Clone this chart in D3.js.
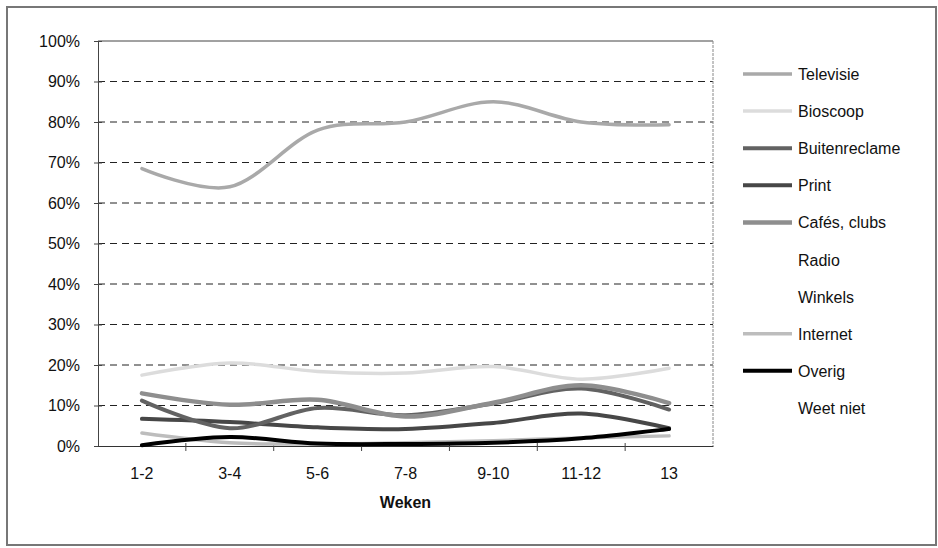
<!DOCTYPE html>
<html>
<head>
<meta charset="utf-8">
<script src="https://cdn.jsdelivr.net/npm/d3@7"></script>
<style>
  body { margin: 0; background: #fff; }
</style>
</head>
<body>
<div id="chart"></div>
<script>
// data (share of respondents, %)
const weeks = ["1-2", "3-4", "5-6", "7-8", "9-10", "11-12", "13"];
const yTicks = [0, 10, 20, 30, 40, 50, 60, 70, 80, 90, 100];

const televisie     = [68.5, 64.0, 78.0, 80.0, 85.0, 80.0, 79.3];
const bioscoop      = [17.5, 20.5, 18.4, 18.0, 19.6, 16.5, 19.2];
const buitenreclame = [11.2, 4.4, 9.4, 7.6, 10.5, 14.2, 9.0];
const print         = [6.7, 5.9, 4.6, 4.2, 5.7, 8.0, 4.4];
const cafesClubs    = [13.0, 10.2, 11.4, 7.3, 10.7, 15.0, 10.6];
const internet      = [3.2, 0.8, 0.5, 0.8, 1.3, 2.0, 2.5];
const overig        = [0.2, 2.2, 0.6, 0.5, 0.8, 1.9, 4.2];

const legendNames = ["Televisie", "Bioscoop", "Buitenreclame", "Print", "Cafés, clubs",
                     "Radio", "Winkels", "Internet", "Overig", "Weet niet"];

const series = [
  { name: "Televisie",     values: televisie,     color: "#a9a9a9", width: 3.5 },
  { name: "Bioscoop",      values: bioscoop,      color: "#dcdcdc", width: 3.5 },
  { name: "Buitenreclame", values: buitenreclame, color: "#626262", width: 4 },
  { name: "Print",         values: print,         color: "#474747", width: 4 },
  { name: "Cafés, clubs",  values: cafesClubs,    color: "#8e8e8e", width: 4.5 },
  { name: "Radio",         values: null },
  { name: "Winkels",       values: null },
  { name: "Internet",      values: internet,      color: "#bdbdbd", width: 3.5 },
  { name: "Overig",        values: overig,        color: "#000000", width: 4 },
  { name: "Weet niet",     values: null }
];

const W = 938, H = 548;
const plot = { left: 98, right: 713, top: 41, bottom: 446 };

const svg = d3.select("#chart")
  .append("svg")
  .attr("width", W)
  .attr("height", H)
  .style("font-family", "'Liberation Sans', Arial, sans-serif");

// outer frame
svg.append("rect")
  .attr("x", 7).attr("y", 7)
  .attr("width", 929).attr("height", 538)
  .attr("fill", "none")
  .attr("stroke", "#777")
  .attr("stroke-width", 2);

const x = d3.scaleBand()
  .domain(weeks)
  .range([plot.left, plot.right])
  .padding(0);

const y = d3.scaleLinear()
  .domain([0, 100])
  .range([plot.bottom, plot.top]);

const cx = d => x(d) + x.bandwidth() / 2;

// gridlines
svg.append("g")
  .selectAll("line")
  .data(yTicks.filter(t => t > 0 && t < 100))
  .enter()
  .append("line")
  .attr("x1", plot.left).attr("x2", plot.right)
  .attr("y1", d => y(d)).attr("y2", d => y(d))
  .attr("stroke", "#222")
  .attr("stroke-width", 1)
  .attr("stroke-dasharray", "7,5");

// plot border top and right
svg.append("line")
  .attr("x1", plot.left).attr("x2", plot.right)
  .attr("y1", y(100)).attr("y2", y(100))
  .attr("stroke", "#444");
svg.append("line")
  .attr("x1", plot.right).attr("x2", plot.right)
  .attr("y1", y(100)).attr("y2", y(0))
  .attr("stroke", "#888")
  .attr("stroke-dasharray", "3,1");

// y axis
const yAxis = svg.append("g")
  .attr("transform", `translate(${plot.left},0)`)
  .call(d3.axisLeft(y).tickValues(yTicks).tickFormat(d => d + "%").tickSize(4).tickPadding(14));
yAxis.select(".domain").attr("stroke", "#444");
yAxis.selectAll(".tick line").attr("x1", -4).attr("x2", 4).attr("stroke", "#444");
yAxis.selectAll("text")
  .style("font-size", "16px")
  .attr("fill", "#111");

// x axis
const xAxis = svg.append("g")
  .attr("transform", `translate(0,${plot.bottom})`)
  .call(d3.axisBottom(x).tickSize(0).tickPadding(22));
xAxis.select(".domain").attr("stroke", "#333");
xAxis.selectAll("text")
  .style("font-size", "16px")
  .attr("fill", "#111");

// x tick marks between categories
svg.append("g")
  .selectAll("line")
  .data(weeks.slice(1))
  .enter()
  .append("line")
  .attr("x1", d => x(d)).attr("x2", d => x(d))
  .attr("y1", plot.bottom - 3).attr("y2", plot.bottom + 5)
  .attr("stroke", "#444");

svg.append("text")
  .attr("x", (plot.left + plot.right) / 2)
  .attr("y", 508)
  .attr("text-anchor", "middle")
  .style("font-size", "16px")
  .style("font-weight", "bold")
  .attr("fill", "#111")
  .text("Weken");

// lines
const line = d3.line()
  .x((d, i) => cx(weeks[i]))
  .y(d => y(d))
  .curve(d3.curveCardinal.tension(0));

const drawOrder = ["Bioscoop", "Televisie", "Internet", "Print", "Overig", "Buitenreclame", "Cafés, clubs"];
svg.append("g")
  .selectAll("path")
  .data(drawOrder.map(n => series.find(s => s.name === n)))
  .enter()
  .append("path")
  .attr("d", d => line(d.values))
  .attr("fill", "none")
  .attr("stroke", d => d.color)
  .attr("stroke-width", d => d.width)
  .attr("stroke-linecap", "round");

// legend
const legend = svg.append("g")
  .attr("transform", "translate(743, 74)");

legendNames.forEach((name, i) => {
  const s = series.find(d => d.name === name);
  const row = legend.append("g")
    .attr("transform", `translate(0, ${i * 37.1})`);

  if (s.values) {
    row.append("line")
      .attr("x1", 0).attr("x2", 49)
      .attr("y1", 0).attr("y2", 0)
      .attr("stroke", s.color)
      .attr("stroke-width", s.width);
  }

  row.append("text")
    .attr("x", 55)
    .attr("y", 6)
    .style("font-size", "16px")
    .attr("fill", "#111")
    .text(name);
});
</script>
</body>
</html>
